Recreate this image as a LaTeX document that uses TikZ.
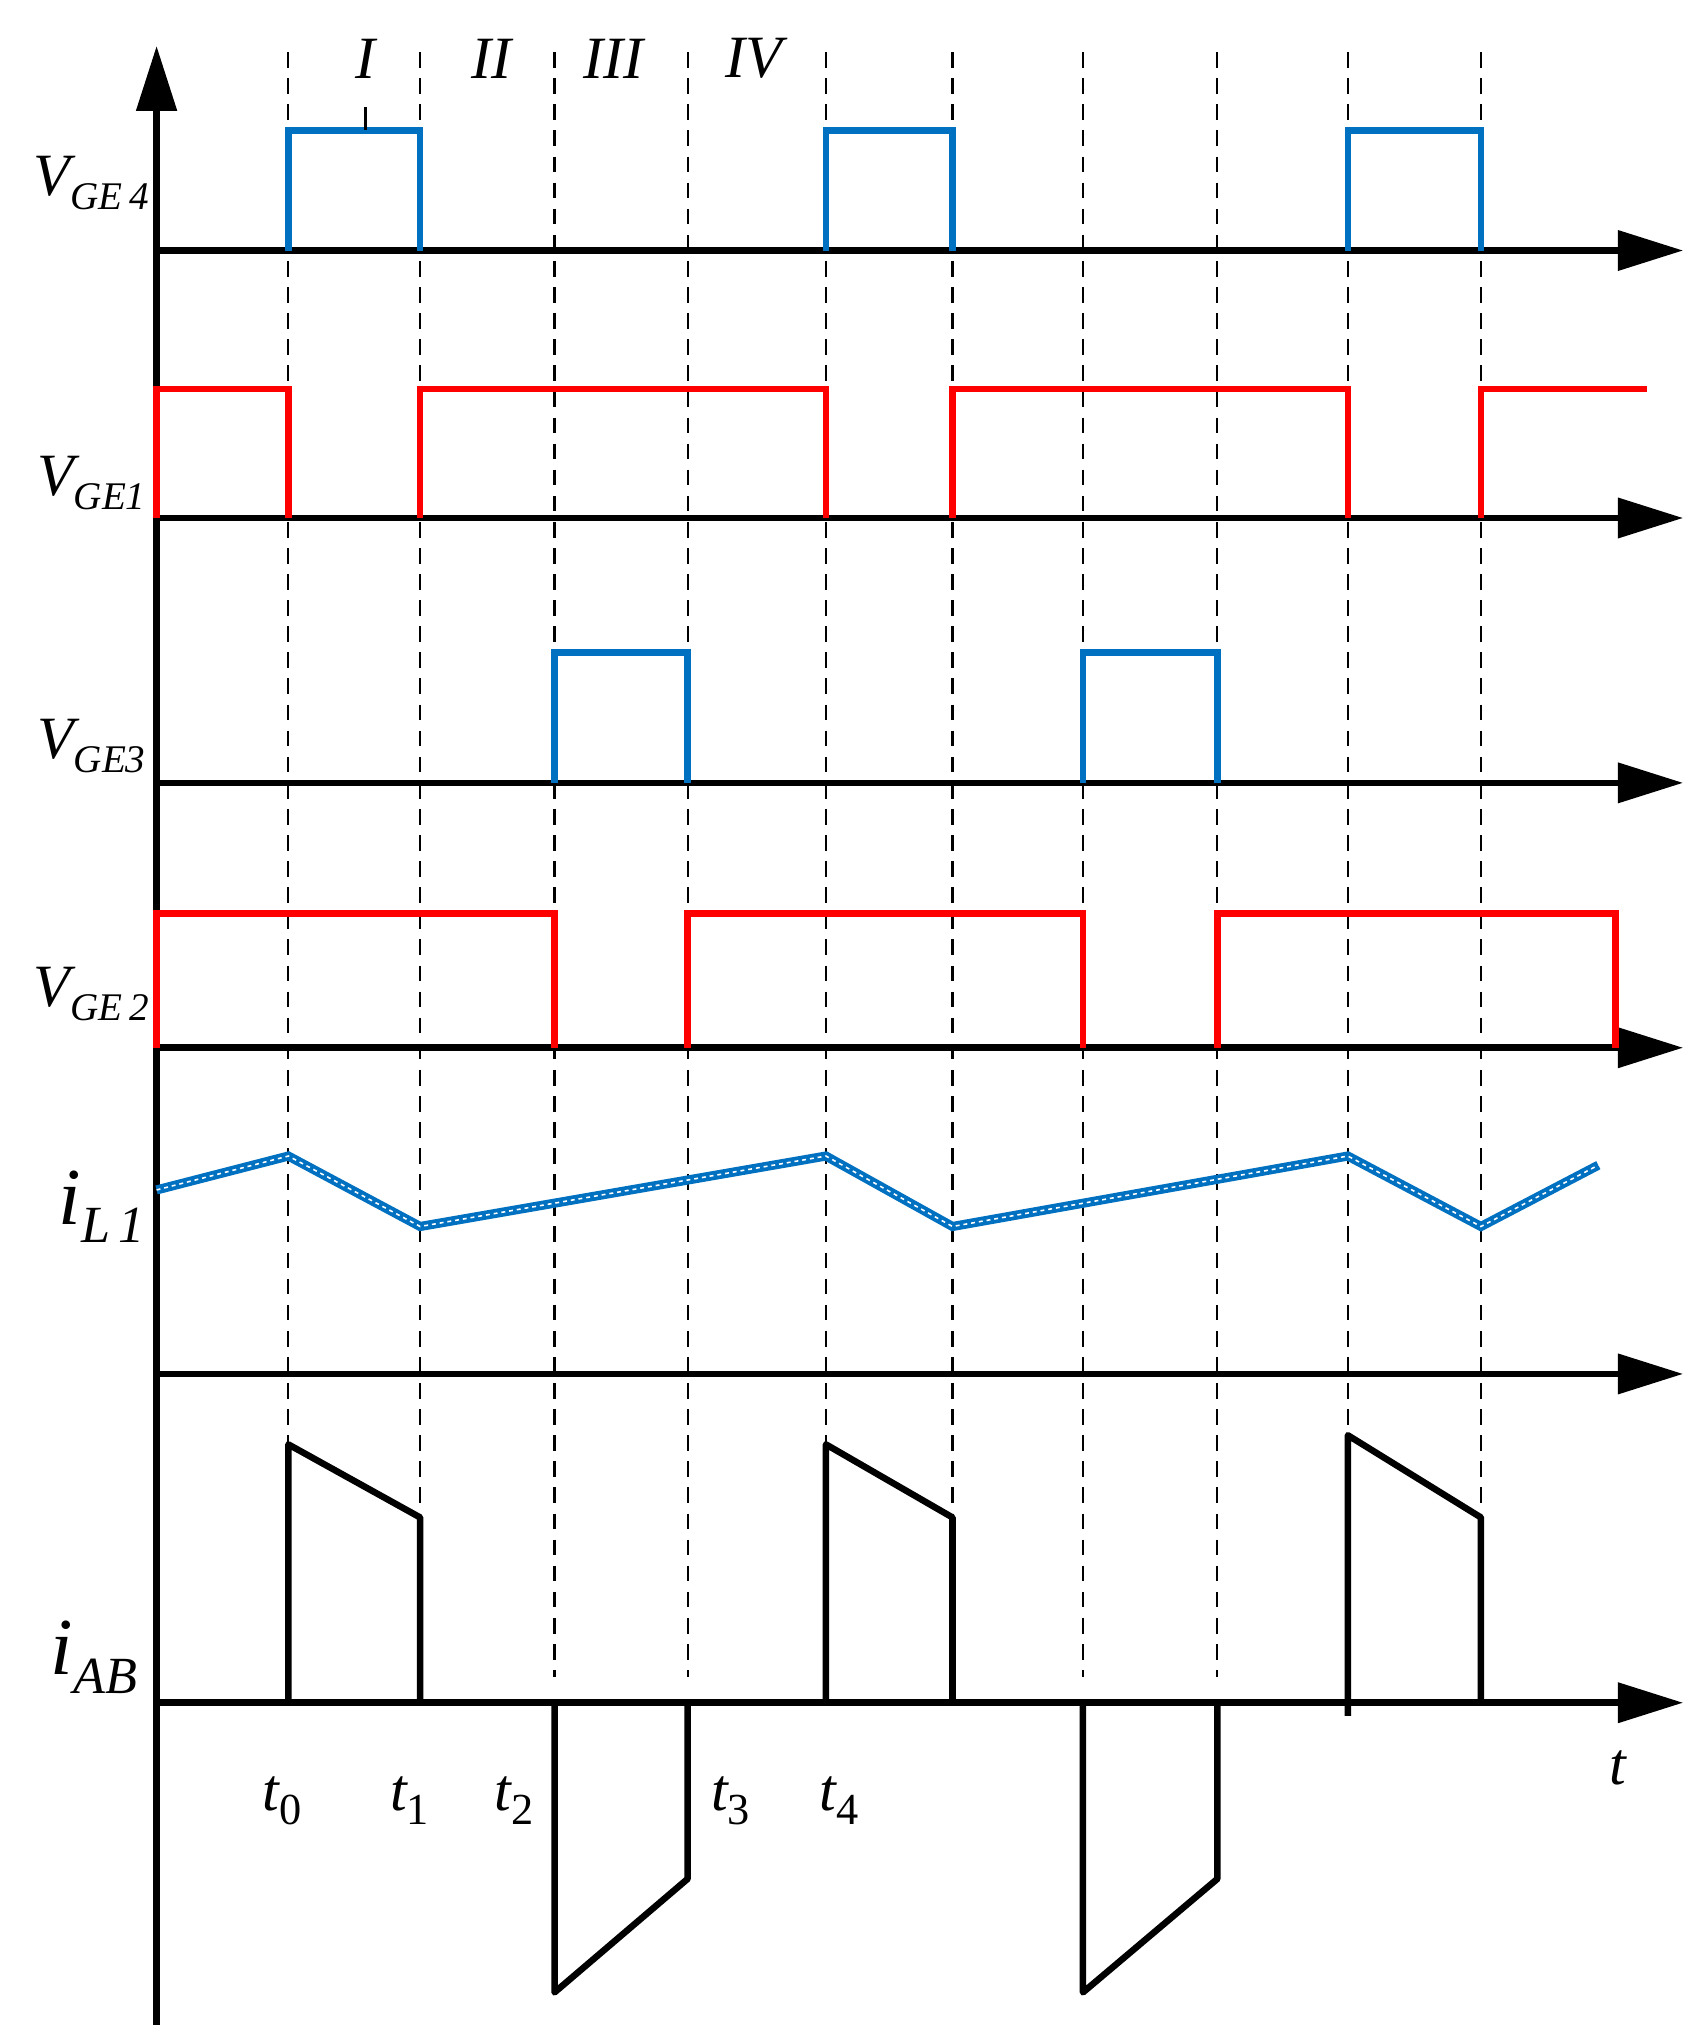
\documentclass[tikz,border=0pt]{standalone}
\usepackage{fontspec}
\setmainfont{Liberation Serif}
\usetikzlibrary{arrows.meta}
\newcommand\mysub[2]{\raisebox{-0.5ex}{\fontsize{#1}{#1}\selectfont #2}}
\begin{document}
\begin{tikzpicture}[x=1pt,y=-1pt,
 axis/.style={line width=5pt,-{Triangle[length=50pt,width=30pt]}},
 dashln/.style={line width=1.6pt,dash pattern=on 12pt off 8pt},
 blu/.style={line width=5pt,color={rgb,255:red,0;green,112;blue,192}},
 rd/.style={line width=5pt,color=red},
 blk/.style={line width=5pt,line join=round},
 lab/.style={font=\fontsize{46}{50}\selectfont\itshape,inner sep=0pt}]
\useasboundingbox (0,0) rectangle (1300,1552);
\foreach \x in {221,322,425,527,633,730,830,933,1033,1135}
  \draw[dashln] (\x,40) -- (\x,1285);
\coordinate (ob) at (120,1555); \coordinate (ot) at (120,35);
\draw[axis,line width=6pt] (ob) -- (ot);
\foreach \y/\n in {192/a,397/b,600/c,803/d,1053/e,1305/f}{
  \coordinate (s\n) at (120,\y); \coordinate (e\n) at (1290,\y);
  \draw[axis] (s\n) -- (e\n);}
% VGE4
\draw[blu] (221,192)--(221,100)--(322,100)--(322,192);
\draw[blu] (633,192)--(633,100)--(730,100)--(730,192);
\draw[blu] (1033,192)--(1033,100)--(1135,100)--(1135,192);
% VGE1
\draw[rd] (120,397)--(120,298)--(221,298)--(221,397);
\draw[rd] (322,397)--(322,298)--(633,298)--(633,397);
\draw[rd] (730,397)--(730,298)--(1033,298)--(1033,397);
\draw[rd] (1135,397)--(1135,298)--(1262,298);
% VGE3
\draw[blu] (425,600)--(425,500)--(527,500)--(527,600);
\draw[blu] (830,600)--(830,500)--(933,500)--(933,600);
% VGE2
\draw[rd] (120,803)--(120,700)--(425,700)--(425,803);
\draw[rd] (527,803)--(527,700)--(830,700)--(830,803);
\draw[rd] (933,803)--(933,700)--(1238,700)--(1238,803);
% iL1
\def\ilpath{(120,912)--(221,886)--(322,940)--(633,886)--(730,940)--(1033,886)--(1135,940)--(1225,893)}
\draw[line width=7pt,color={rgb,255:red,0;green,112;blue,192}] \ilpath;
\draw[line width=1.2pt,white,dash pattern=on 3pt off 3pt] \ilpath;
% iAB
\draw[blk] (221,1305)--(221,1107)--(322,1163)--(322,1305);
\draw[blk] (633,1305)--(633,1107)--(730,1163)--(730,1305);
\draw[blk] (1033,1315)--(1033,1100)--(1135,1163)--(1135,1305);
\draw[blk] (425,1305)--(425,1527)--(527,1440)--(527,1305);
\draw[blk] (830,1305)--(830,1527)--(933,1440)--(933,1305);
% labels
\node[lab] (l4) at (70,140) {V\mysub{30}{GE\,4}};
\node[lab] (l1) at (70,370) {V\mysub{30}{GE1}};
\node[lab] (l3) at (70,572) {V\mysub{30}{GE3}};
\node[lab] (l2) at (70,762) {V\mysub{30}{GE\,2}};
\node[lab,font=\fontsize{62}{64}\selectfont\itshape] (li) at (78,925) {i\mysub{40}{L\,1}};
\node[lab,font=\fontsize{62}{64}\selectfont\itshape] (la) at (72,1270) {i\mysub{40}{AB}};
\node[lab] (t0) at (216,1380) {t\mysub{34}{\upshape 0}};
\node[lab] (t1) at (314,1380) {t\mysub{34}{\upshape 1}};
\node[lab] (t2) at (394,1380) {t\mysub{34}{\upshape 2}};
\node[lab] (t3) at (560,1380) {t\mysub{34}{\upshape 3}};
\node[lab] (t4) at (643,1380) {t\mysub{34}{\upshape 4}};
\node[lab] (tt) at (1240,1355) {t};
\node[lab] (r1) at (280,45) {I};
\node[lab] (r2) at (377,45) {II};
\node[lab] (r3) at (470,45) {III};
\node[lab] (r4) at (578,45) {IV};
\draw[line width=2pt] (280,82) -- (280,100);
\end{tikzpicture}
\end{document}
